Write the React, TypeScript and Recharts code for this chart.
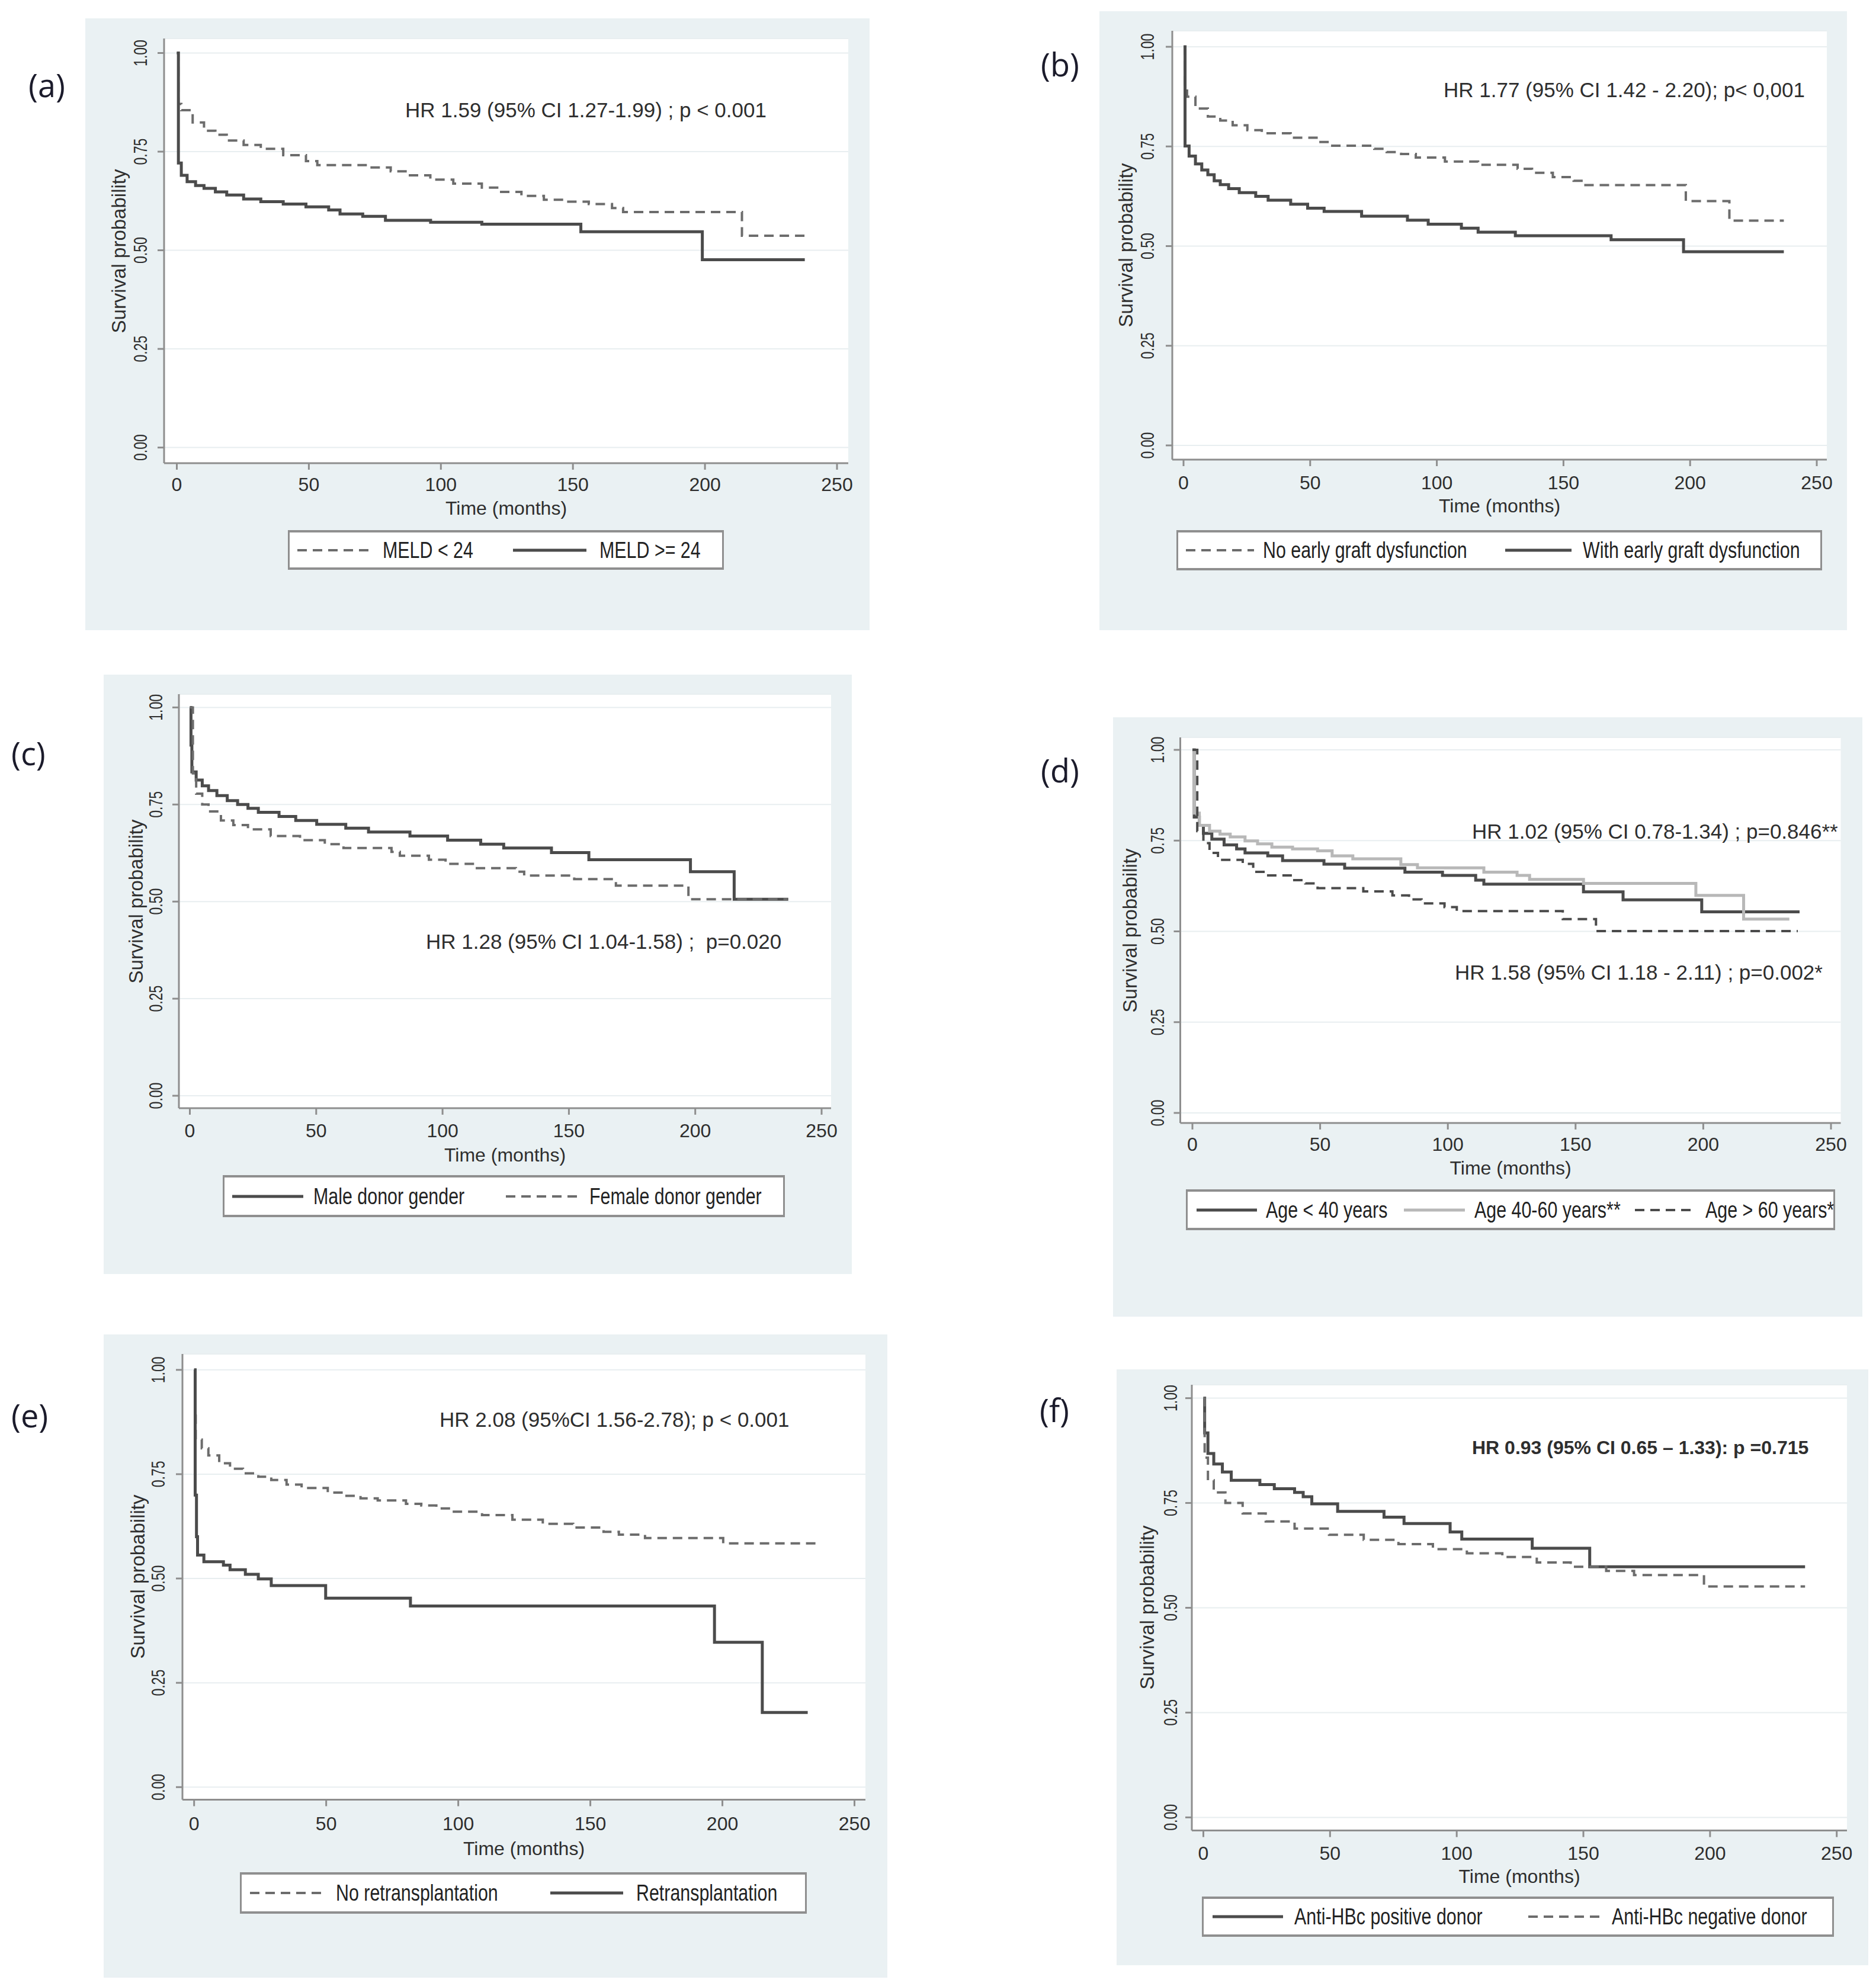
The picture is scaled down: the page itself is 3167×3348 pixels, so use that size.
import React from 'react'
import { LineChart, Line, XAxis, YAxis, CartesianGrid } from 'recharts'

const FONT = '"Liberation Sans", Arial, Helvetica, sans-serif'
const BG = '#eaf1f3'
const AXIS = '#8e8e8e'
const DARK = '#4b4b4b'
const MID = '#6c6c6c'
const LIGHT = '#b8b8b8'
const TEXT = '#2e2e2e'

const xTicks = [0, 50, 100, 150, 200, 250]
const yTicks = [0, 0.25, 0.5, 0.75, 1]

// (a) MELD
const aLowT = [0, 0.6, 1.7, 6, 10.3, 14.6, 18.9, 25.3, 31.8, 40.3, 48.9, 53.2, 72.5, 81, 87.6, 96, 104.7, 115.5, 122, 130.5, 139, 147.6, 156, 164.8, 169, 214, 238]
const aLowS = [1, 0.871, 0.855, 0.824, 0.803, 0.793, 0.778, 0.767, 0.757, 0.741, 0.726, 0.716, 0.71, 0.7, 0.69, 0.679, 0.669, 0.659, 0.648, 0.638, 0.628, 0.623, 0.617, 0.607, 0.597, 0.537, 0.537]
const aHighT = [0, 0.6, 1.7, 3.9, 7.1, 10.3, 14.6, 18.9, 25.3, 31.8, 40.3, 48.9, 57.5, 61.8, 70.4, 79, 96.1, 115.5, 153, 199, 237.8]
const aHighS = [1, 0.721, 0.69, 0.674, 0.664, 0.657, 0.648, 0.64, 0.63, 0.623, 0.617, 0.61, 0.602, 0.592, 0.586, 0.576, 0.571, 0.566, 0.547, 0.476, 0.476]

// (b) early graft dysfunction
const bNoT = [0, 0.5, 1.4, 4.7, 9.6, 14.5, 19.4, 25.2, 30.9, 42.3, 53, 58, 75.3, 80.2, 85.9, 91.7, 103.2, 116.3, 131.9, 137.6, 145.8, 154, 158.1, 198.3, 215.5, 237]
const bNoS = [1, 0.9, 0.875, 0.845, 0.825, 0.815, 0.803, 0.791, 0.783, 0.772, 0.761, 0.752, 0.744, 0.736, 0.731, 0.722, 0.712, 0.704, 0.694, 0.684, 0.673, 0.664, 0.653, 0.613, 0.564, 0.564]
const bWithT = [0, 0.6, 2.2, 4.7, 7.2, 9.6, 12.1, 14.5, 17.8, 22, 28.5, 33.4, 42.3, 49, 55.5, 70.3, 88.4, 96.6, 109.7, 116.3, 131, 168.8, 197.4, 237]
const bWithS = [1, 0.751, 0.726, 0.706, 0.691, 0.679, 0.664, 0.654, 0.644, 0.634, 0.625, 0.615, 0.605, 0.595, 0.587, 0.575, 0.565, 0.555, 0.545, 0.535, 0.526, 0.516, 0.486, 0.486]

// (c) donor gender
const cMaleT = [0, 0.45, 0.8, 2.5, 4.9, 7.4, 10.7, 14.8, 18.9, 23, 27.1, 35.3, 41.9, 50.2, 61.7, 70.7, 87.1, 102, 115.1, 124.2, 143.1, 157.9, 198.1, 215.4, 236.8]
const cMaleS = [1, 0.903, 0.834, 0.813, 0.798, 0.786, 0.773, 0.76, 0.75, 0.74, 0.73, 0.719, 0.709, 0.699, 0.689, 0.679, 0.669, 0.658, 0.648, 0.638, 0.626, 0.608, 0.577, 0.506, 0.506]
const cFemaleT = [0, 1.2, 2.5, 4.9, 7.4, 12.3, 17.2, 23, 32, 43.6, 53.4, 60.8, 79.8, 83.1, 94.6, 101.2, 112.6, 129, 132.3, 152.1, 168.6, 197.3, 236.5]
const cFemaleS = [1, 0.83, 0.778, 0.75, 0.732, 0.709, 0.697, 0.686, 0.669, 0.658, 0.648, 0.638, 0.628, 0.618, 0.608, 0.597, 0.586, 0.577, 0.567, 0.558, 0.541, 0.506, 0.506]

// (d) donor age
const dYoungT = [0, 0.7, 2.7, 4.3, 7.6, 12.4, 17.3, 20.6, 29.5, 35.3, 51.5, 59.6, 83.2, 97.9, 110.9, 114.1, 153.1, 168.6, 199.4, 237.7]
const dYoungS = [1, 0.815, 0.792, 0.77, 0.754, 0.738, 0.727, 0.716, 0.708, 0.695, 0.685, 0.674, 0.663, 0.654, 0.641, 0.63, 0.609, 0.587, 0.554, 0.554]
const dMidT = [0, 0.7, 2.7, 6.7, 10.8, 14.8, 20.6, 25.5, 31.1, 39.2, 49, 54.7, 62.8, 81.6, 88.1, 114.1, 127.1, 132, 153.1, 197.1, 215.8, 233.7]
const dMidS = [1, 0.826, 0.792, 0.776, 0.768, 0.76, 0.749, 0.741, 0.732, 0.727, 0.722, 0.708, 0.7, 0.684, 0.675, 0.663, 0.654, 0.643, 0.632, 0.599, 0.534, 0.534]
const dOldT = [0, 1.9, 4.3, 6.7, 10, 19.7, 23.8, 28.7, 39.3, 44.2, 49, 66.9, 78.3, 84.8, 89.7, 98.7, 103.5, 145, 158, 237]
const dOldS = [1, 0.776, 0.743, 0.716, 0.697, 0.686, 0.664, 0.654, 0.641, 0.632, 0.619, 0.61, 0.599, 0.588, 0.577, 0.567, 0.556, 0.534, 0.501, 0.501]

// (e) retransplantation
const eNoT = [0, 0.3, 0.6, 2.9, 5.4, 9.5, 13.6, 18.5, 24.3, 29.2, 35, 40.7, 50.6, 57.2, 63, 69.5, 80.2, 86, 91.7, 97.5, 109, 120.5, 132, 143.5, 155, 160.8, 170.7, 200.3, 236.4]
const eNoS = [1, 0.9, 0.833, 0.812, 0.795, 0.776, 0.763, 0.752, 0.744, 0.736, 0.725, 0.717, 0.706, 0.698, 0.692, 0.687, 0.679, 0.675, 0.668, 0.66, 0.652, 0.641, 0.631, 0.622, 0.612, 0.605, 0.597, 0.584, 0.584]
const eReT = [0, 0.4, 0.9, 1.3, 3.7, 11.1, 13.6, 19.4, 24.3, 29.2, 49.8, 81.9, 197, 215.1, 232.3]
const eReS = [1, 0.7, 0.6, 0.556, 0.54, 0.532, 0.521, 0.51, 0.499, 0.483, 0.453, 0.434, 0.347, 0.179, 0.179]

// (f) anti-HBc
const fPosT = [0, 0.5, 1.8, 4.1, 7.5, 11, 22.3, 28, 36, 39.4, 42.8, 53, 71.3, 79.2, 97.4, 102, 129.8, 152.5, 237.5]
const fPosS = [1, 0.917, 0.868, 0.843, 0.824, 0.804, 0.794, 0.784, 0.775, 0.765, 0.748, 0.73, 0.716, 0.701, 0.681, 0.664, 0.642, 0.598, 0.598]
const fNegT = [0, 0.5, 1.8, 4.1, 8.7, 15.5, 24.6, 36, 49.6, 63.3, 77, 90.6, 104, 118, 131.6, 145, 159, 170, 197.6, 237.5]
const fNegS = [1, 0.858, 0.804, 0.775, 0.75, 0.725, 0.706, 0.689, 0.674, 0.662, 0.652, 0.64, 0.63, 0.621, 0.608, 0.598, 0.588, 0.578, 0.551, 0.551]

type Ser = { name: string; t: number[]; s: number[]; color: string; width: number; dash?: string }
type Note = { text: string; x: number; y: number; bold?: boolean }
type Lay = {
  l: number; t: number; r: number; b: number
  axisX: number; plotRight: number; plotTop: number; axisY: number
  x0: number; x250: number; y1: number; y0: number
  xTickC: number; yTickC: number; xTitleY: number; yTitleX: number
  leg: [number, number, number, number]
  items: [number, number, number][]
  label: string; labelX: number; labelY: number
}

const solid = (name: string, t: number[], s: number[], color = DARK): Ser => ({ name, t, s, color, width: 5 })
const dashed = (name: string, t: number[], s: number[], color = MID): Ser => ({ name, t, s, color, width: 4, dash: '16 10' })

const panels: { L: Lay; series: Ser[]; notes: Note[] }[] = [
  {
    L: { l: 144, t: 31, r: 1468, b: 1064, axisX: 277, plotRight: 1432, plotTop: 65, axisY: 782, x0: 298.5, x250: 1413, y1: 89.5, y0: 755.6,
      xTickC: 818, yTickC: 237, xTitleY: 858, yTitleX: 201, leg: [486, 895, 1222, 962],
      items: [[502, 627, 646], [866, 990, 1012]], label: '(a)', labelX: 48, labelY: 143 },
    series: [dashed('MELD < 24', aLowT, aLowS), solid('MELD >= 24', aHighT, aHighS)],
    notes: [{ text: 'HR 1.59 (95% CI 1.27-1.99) ; p < 0.001', x: 684, y: 186 }],
  },
  {
    L: { l: 1856, t: 19, r: 3118, b: 1064, axisX: 1979, plotRight: 3084, plotTop: 52, axisY: 776, x0: 1998, x250: 3067, y1: 79, y0: 752,
      xTickC: 815, yTickC: 1937, xTitleY: 854, yTitleX: 1901, leg: [1986, 895, 3076, 963],
      items: [[2002, 2117, 2132], [2541, 2653, 2672]], label: '(b)', labelX: 1757, labelY: 108 },
    series: [dashed('No early graft dysfunction', bNoT, bNoS), solid('With early graft dysfunction', bWithT, bWithS)],
    notes: [{ text: 'HR 1.77 (95% CI 1.42 - 2.20); p< 0,001', x: 2437, y: 152 }],
  },
  {
    L: { l: 175, t: 1139, r: 1438, b: 2151, axisX: 302, plotRight: 1403, plotTop: 1172, axisY: 1871, x0: 320.5, x250: 1387, y1: 1194.4, y0: 1850,
      xTickC: 1909, yTickC: 263, xTitleY: 1950, yTitleX: 230, leg: [376, 1984, 1325, 2055],
      items: [[392, 512, 529], [854, 976, 995]], label: '(c)', labelX: 19, labelY: 1271 },
    series: [solid('Male donor gender', cMaleT, cMaleS), dashed('Female donor gender', cFemaleT, cFemaleS)],
    notes: [{ text: 'HR 1.28 (95% CI 1.04-1.58) ;  p=0.020', x: 719, y: 1590 }],
  },
  {
    L: { l: 1879, t: 1211, r: 3144, b: 2223, axisX: 1992.5, plotRight: 3107.5, plotTop: 1245, axisY: 1896, x0: 2013, x250: 3091, y1: 1266, y0: 1879,
      xTickC: 1932, yTickC: 1954.5, xTitleY: 1972, yTitleX: 1908, leg: [2002, 2008, 3098, 2077],
      items: [[2020, 2122, 2137], [2370, 2473, 2489], [2760, 2862, 2879]], label: '(d)', labelX: 1757, labelY: 1300 },
    series: [
      solid('Age < 40 years', dYoungT, dYoungS),
      solid('Age 40-60 years**', dMidT, dMidS, LIGHT),
      dashed('Age > 60 years*', dOldT, dOldS, DARK),
    ],
    notes: [
      { text: 'HR 1.02 (95% CI 0.78-1.34) ; p=0.846**', x: 2485, y: 1404 },
      { text: 'HR 1.58 (95% CI 1.18 - 2.11) ; p=0.002*', x: 2456, y: 1642 },
    ],
  },
  {
    L: { l: 175, t: 2253, r: 1498, b: 3339, axisX: 308, plotRight: 1461, plotTop: 2286, axisY: 3038.5, x0: 327.7, x250: 1442.5, y1: 2312.8, y0: 3017.3,
      xTickC: 3079, yTickC: 266.6, xTitleY: 3121, yTitleX: 232.6, leg: [405, 3161, 1362, 3231],
      items: [[422, 548, 567], [929, 1052, 1074]], label: '(e)', labelX: 19, labelY: 2389 },
    series: [dashed('No retransplantation', eNoT, eNoS), solid('Retransplantation', eReT, eReS)],
    notes: [{ text: 'HR 2.08 (95%CI 1.56-2.78); p < 0.001', x: 742, y: 2397 }],
  },
  {
    L: { l: 1885, t: 2312, r: 3154, b: 3318, axisX: 2012, plotRight: 3118, plotTop: 2338, axisY: 3090.6, x0: 2031.5, x250: 3100.7, y1: 2360.6, y0: 3068.4,
      xTickC: 3129, yTickC: 1976, xTitleY: 3167.6, yTitleX: 1937, leg: [2029, 3202, 3096, 3270],
      items: [[2047, 2166, 2185], [2580, 2701, 2721]], label: '(f)', labelX: 1755, labelY: 2380 },
    series: [solid('Anti-HBc positive donor', fPosT, fPosS), dashed('Anti-HBc negative donor', fNegT, fNegS)],
    notes: [{ text: 'HR 0.93 (95% CI 0.65 \u2013 1.33): p =0.715', x: 2485, y: 2444, bold: true }],
  },
]

const pts = (t: number[], s: number[]) => t.map((v, i) => ({ t: v, s: s[i] }))

function Panel({ L, series, notes }: { L: Lay; series: Ser[]; notes: Note[] }) {
  const w = L.r - L.l
  const h = L.b - L.t
  const pxX = (L.x250 - L.x0) / 250
  const pxY = L.y0 - L.y1
  const xDomain = [(L.axisX - L.x0) / pxX, 250 + (L.plotRight - L.x250) / pxX]
  const yDomain = [-(L.axisY - L.y0) / pxY, 1 + (L.y1 - L.plotTop) / pxY]

  const XTick = (p: any) => (
    <text x={p.x} y={L.xTickC - L.t} textAnchor="middle" dominantBaseline="central" fontSize={32} fill={TEXT} fontFamily={FONT}>
      {p.payload.value}
    </text>
  )
  const YTick = (p: any) => (
    <text transform={`translate(${L.yTickC - L.l},${p.y}) rotate(-90) scale(0.72,1)`} textAnchor="middle" dominantBaseline="central"
      fontSize={32} fill={TEXT} fontFamily={FONT}>
      {Number(p.payload.value).toFixed(2)}
    </text>
  )

  const [gl, gt, gr, gb] = L.leg
  const midY = (gt + gb) / 2

  return (
    <>
      <div style={{ position: 'absolute', left: L.l, top: L.t, width: w, height: h, background: BG }}>
        <LineChart width={w} height={h} margin={{ top: L.plotTop - L.t, right: L.r - L.plotRight, left: 0, bottom: 0 }}>
          <CartesianGrid vertical={false} fill="#ffffff" stroke="#e8eef0" strokeWidth={2} />
          <XAxis type="number" dataKey="t" domain={xDomain} ticks={xTicks} allowDataOverflow height={L.b - L.axisY}
            axisLine={{ stroke: AXIS, strokeWidth: 3 }} tickLine={{ stroke: AXIS, strokeWidth: 3 }} tickSize={11} tickMargin={0} tick={XTick} />
          <YAxis type="number" dataKey="s" domain={yDomain} ticks={yTicks} allowDataOverflow width={L.axisX - L.l}
            axisLine={{ stroke: AXIS, strokeWidth: 3 }} tickLine={{ stroke: AXIS, strokeWidth: 3 }} tickSize={11} tickMargin={0} tick={YTick} />
          {series.map((s) => (
            <Line key={s.name} data={pts(s.t, s.s)} dataKey="s" type="stepAfter" stroke={s.color} strokeWidth={s.width}
              strokeDasharray={s.dash} dot={false} activeDot={false} isAnimationActive={false} />
          ))}
        </LineChart>
      </div>

      <div style={{ position: 'absolute', left: (L.axisX + L.plotRight) / 2, top: L.xTitleY, transform: 'translate(-50%,-50%)',
        fontSize: 32, color: TEXT, whiteSpace: 'nowrap' }}>Time (months)</div>
      <div style={{ position: 'absolute', left: L.yTitleX, top: (L.plotTop + L.axisY) / 2, transform: 'translate(-50%,-50%) rotate(-90deg)',
        fontSize: 33, color: TEXT, whiteSpace: 'nowrap' }}>Survival probability</div>

      {notes.map((n) => (
        <div key={n.text} style={{ position: 'absolute', left: n.x, top: n.y, transform: 'translateY(-50%)', fontSize: n.bold ? 32 : 35,
          fontWeight: n.bold ? 700 : 400, color: TEXT, whiteSpace: 'pre' }}>{n.text}</div>
      ))}

      <div style={{ position: 'absolute', left: gl, top: gt, width: gr - gl, height: gb - gt, boxSizing: 'border-box', background: '#fff',
        borderStyle: 'solid', borderColor: '#8f8f8f', borderWidth: '4px 3px 4px 3px' }} />
      {series.map((s, i) => {
        const [x1, x2, tx] = L.items[i]
        return (
          <React.Fragment key={s.name}>
            <svg style={{ position: 'absolute', left: x1, top: midY - 5, overflow: 'visible' }} width={x2 - x1} height={10}>
              <line x1={0} y1={5} x2={x2 - x1} y2={5} stroke={s.color} strokeWidth={s.width} strokeDasharray={s.dash} />
            </svg>
            <div style={{ position: 'absolute', left: tx, top: midY, transform: 'translateY(-50%) scaleX(0.8)', transformOrigin: 'left center',
              fontSize: 38, color: '#222', whiteSpace: 'nowrap' }}>{s.name}</div>
          </React.Fragment>
        )
      })}

      <div style={{ position: 'absolute', left: L.labelX, top: L.labelY, transform: 'translateY(-50%)', fontFamily: '"Open Sans", sans-serif',
        fontSize: 54, color: '#1b1b2b', whiteSpace: 'nowrap' }}>{L.label}</div>
    </>
  )
}

export default function App() {
  return (
    <div style={{ position: 'absolute', left: 0, top: 0, width: 3167, height: 3348, background: '#fff', fontFamily: FONT, overflow: 'hidden' }}>
      {panels.map((p) => (
        <Panel key={p.L.label} L={p.L} series={p.series} notes={p.notes} />
      ))}
    </div>
  )
}
